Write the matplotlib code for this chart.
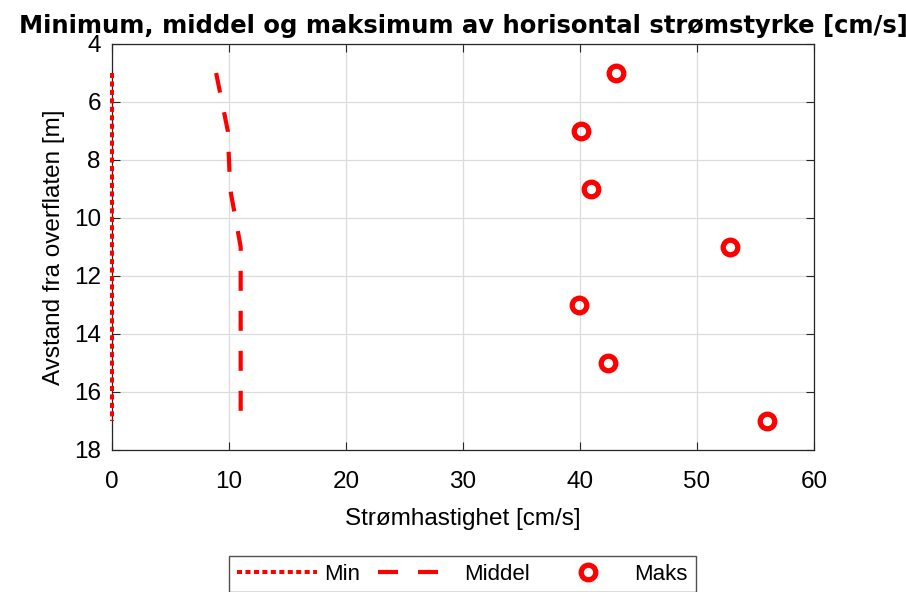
import matplotlib
matplotlib.use("Agg")
import matplotlib.pyplot as plt
from matplotlib.lines import Line2D

plt.rcParams['font.family'] = ['Liberation Sans', 'DejaVu Sans']

# dybde [m] og strømstyrke [cm/s]
dybde = [5, 7, 9, 11, 13, 15, 17]
min_str = [0, 0, 0, 0, 0, 0, 0]
middel_str = [8.9, 9.9, 10.1, 11.0, 11.0, 11.0, 11.0]
maks_str = [43.1, 40.1, 40.9, 52.8, 39.9, 42.4, 56.0]

x_ticks = [0, 10, 20, 30, 40, 50, 60]
y_ticks = [4, 6, 8, 10, 12, 14, 16, 18]

red = '#ff0000'
axcol = '#262626'
dot = (0, (1.25, 0.85))
dash = (0, (4.8, 4.8))

fig = plt.figure(figsize=(9.06, 5.92), dpi=100)
ax = fig.add_axes([0.1236, 0.2399, 0.7749, 0.6858])

ax.plot(min_str, dybde, color=red, lw=2.9, linestyle=dot,
        dash_capstyle='butt', clip_on=False, zorder=5, label='Min')
ax.plot(middel_str, dybde, color=red, lw=3.0, linestyle=dash,
        dash_capstyle='butt', label='Middel')
ax.plot(maks_str, dybde, linestyle='none', marker='o', ms=10.5, mew=3.8,
        mec=red, mfc='none', label='Maks')

ax.set_xlim(0, 60)
ax.set_ylim(18, 4)
ax.set_xticks(x_ticks)
ax.set_yticks(y_ticks)
ax.grid(True, color='#dcdcdc', lw=0.9)
ax.set_axisbelow(True)
ax.tick_params(direction='in', length=6, width=0.8, colors=axcol,
               labelsize=17.5, labelcolor='black',
               top=True, right=True)
ax.tick_params(axis='x', pad=15)
ax.tick_params(axis='y', pad=8)
for s in ax.spines.values():
    s.set_color(axcol)
    s.set_linewidth(0.9)

ax.set_xlabel('Strømhastighet [cm/s]', fontsize=17.5, labelpad=11)
ax.set_ylabel('Avstand fra overflaten [m]', fontsize=17.5, labelpad=6)
ax.set_title('Minimum, middel og maksimum av horisontal strømstyrke [cm/s]',
             fontsize=17.5, fontweight='bold', pad=8, family='DejaVu Sans')

handles = [
    Line2D([], [], color=red, lw=2.9, linestyle=dot, dash_capstyle='butt'),
    Line2D([], [], color=red, lw=3.0, linestyle=dash, dash_capstyle='butt'),
    Line2D([], [], linestyle='none', marker='o', ms=10.5, mew=3.8, mec=red, mfc='none'),
]
leg = fig.legend(handles, ['Min', 'Middel', 'Maks'], ncol=3, loc='upper center',
                 bbox_to_anchor=(0.5105, 0.061), borderaxespad=0, fontsize=16,
                 frameon=True, fancybox=False, edgecolor=axcol, handlelength=3.6,
                 handletextpad=0.3, columnspacing=0.8, borderpad=0.35)
leg.get_frame().set_linewidth(1.0)

fig.savefig('out.png', dpi=100)
